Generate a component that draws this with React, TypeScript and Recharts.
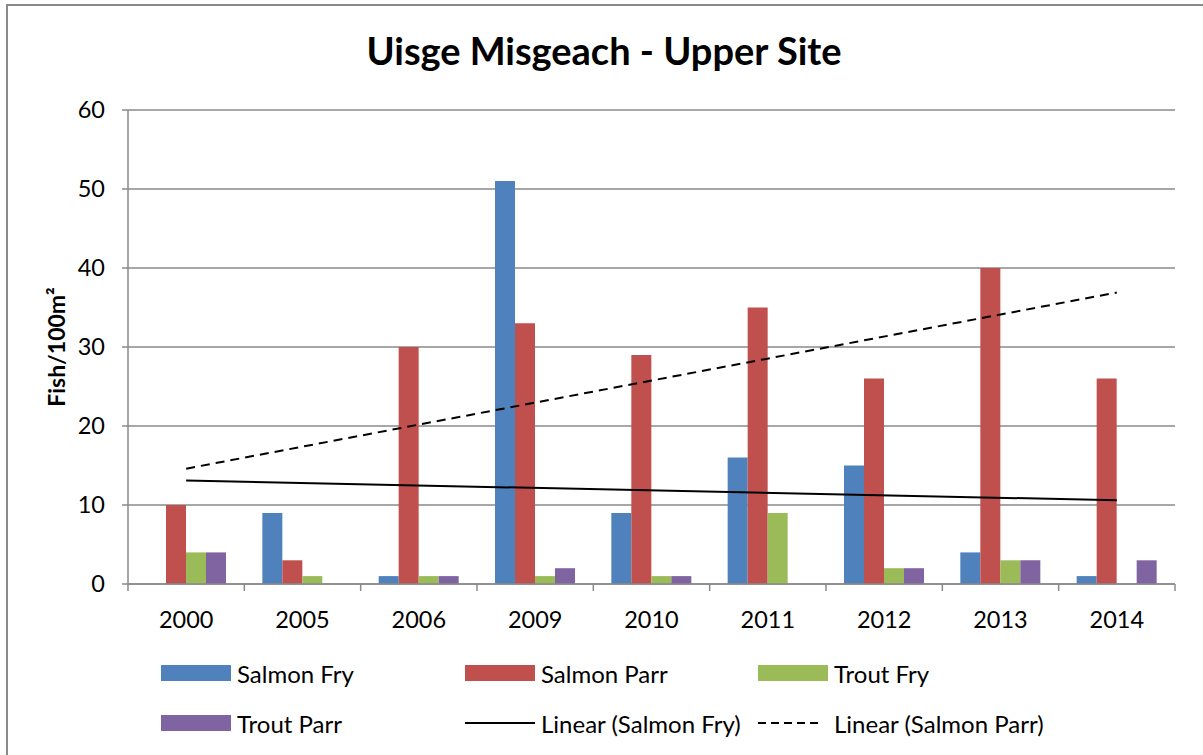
import React from 'react';
import { ComposedChart, Bar, Line, XAxis, YAxis, CartesianGrid } from 'recharts';

const years = ['2000', '2005', '2006', '2009', '2010', '2011', '2012', '2013', '2014'];
const salmonFry = [0, 9, 1, 51, 9, 16, 15, 4, 1];
const salmonParr = [10, 3, 30, 33, 29, 35, 26, 40, 26];
const troutFry = [4, 1, 1, 1, 1, 9, 2, 3, 0];
const troutParr = [4, 0, 1, 2, 1, 0, 2, 3, 3];
// trendline end points (drawn straight between first and last year)
const fryTrend = [13.1, null, null, null, null, null, null, null, 10.6];
const parrTrend = [14.6, null, null, null, null, null, null, null, 36.9];
const yTicks = [0, 10, 20, 30, 40, 50, 60];

const data = years.map((year, i) => ({
  year,
  salmonFry: salmonFry[i],
  salmonParr: salmonParr[i],
  troutFry: troutFry[i],
  troutParr: troutParr[i],
  fryTrend: fryTrend[i],
  parrTrend: parrTrend[i],
}));

const axisGray = '#8a8a8a';

const legendItems = [
  { label: 'Salmon Fry', kind: 'bar', color: '#4F81BD' },
  { label: 'Salmon Parr', kind: 'bar', color: '#C0504D' },
  { label: 'Trout Fry', kind: 'bar', color: '#9BBB59' },
  { label: 'Trout Parr', kind: 'bar', color: '#8064A2' },
  { label: 'Linear (Salmon Fry)', kind: 'line', color: '#000' },
  { label: 'Linear (Salmon Parr)', kind: 'dash', color: '#000' },
];
const legendCols = [161, 465, 758];
const legendRows = [673, 723];

const XTick = (props: any) => {
  const { x, y, payload, index } = props;
  const half = payload && payload.offset ? payload.offset : 58.2;
  return (
    <g>
      <line x1={x - half} x2={x - half} y1={y} y2={y + 7} stroke={axisGray} strokeWidth={1.5} />
      {index === years.length - 1 && (
        <line x1={x + half} x2={x + half} y1={y} y2={y + 7} stroke={axisGray} strokeWidth={1.5} />
      )}
      <text x={x} y={y + 44} textAnchor="middle" fill="#000" fontSize={23.5}>
        {payload.value}
      </text>
    </g>
  );
};

export default function App() {
  return (
    <div
      style={{
        position: 'absolute',
        left: 0,
        top: 0,
        width: 1203,
        height: 755,
        overflow: 'hidden',
        background: '#fff',
        fontFamily: 'Lato, sans-serif',
      }}
    >
      <div
        style={{
          position: 'absolute',
          left: 6,
          top: 4,
          width: 1230,
          height: 790,
          border: `2px solid ${axisGray}`,
        }}
      />
      <div
        style={{
          position: 'absolute',
          left: 0,
          top: 27,
          width: 1208,
          textAlign: 'center',
          fontSize: 38,
          fontWeight: 700,
          color: '#000',
        }}
      >
        Uisge Misgeach - Upper Site
      </div>

      <ComposedChart
        width={1203}
        height={755}
        data={data}
        margin={{ top: 110, right: 28, bottom: 131, left: 0 }}
        barCategoryGap={18}
        barGap={0}
        style={{ position: 'absolute', left: 0, top: 0 }}
      >
        <CartesianGrid vertical={false} stroke={axisGray} strokeWidth={1.5} />
        <XAxis
          dataKey="year"
          height={40}
          tickSize={0}
          tickMargin={0}
          tickLine={false}
          axisLine={{ stroke: axisGray, strokeWidth: 1.5 }}
          tick={<XTick />}
          interval={0}
        />
        <YAxis
          width={128}
          domain={[0, 60]}
          ticks={yTicks}
          tickSize={6}
          tickMargin={17}
          tickLine={{ stroke: axisGray, strokeWidth: 1.5 }}
          axisLine={{ stroke: axisGray, strokeWidth: 1.5 }}
          tick={{ fill: '#000', fontSize: 23.5 }}
          label={{
            value: 'Fish/100m²',
            angle: -90,
            position: 'insideLeft',
            offset: 57,
            style: { textAnchor: 'middle', fontSize: 23, fontWeight: 700, fill: '#000' },
          }}
        />
        <Bar dataKey="salmonFry" fill="#4F81BD" isAnimationActive={false} />
        <Bar dataKey="salmonParr" fill="#C0504D" isAnimationActive={false} />
        <Bar dataKey="troutFry" fill="#9BBB59" isAnimationActive={false} />
        <Bar dataKey="troutParr" fill="#8064A2" isAnimationActive={false} />
        <Line
          dataKey="fryTrend"
          stroke="#000"
          strokeWidth={2}
          dot={false}
          connectNulls
          isAnimationActive={false}
        />
        <Line
          dataKey="parrTrend"
          stroke="#000"
          strokeWidth={2}
          strokeDasharray="9 6"
          dot={false}
          connectNulls
          isAnimationActive={false}
        />
      </ComposedChart>

      {legendItems.map((item, i) => {
        const left = legendCols[i % 3];
        const cy = legendRows[Math.floor(i / 3)];
        return (
          <div
            key={item.label}
            style={{ position: 'absolute', left, top: cy - 16, height: 32, display: 'flex', alignItems: 'center' }}
          >
            <svg width={70} height={32} style={{ display: 'block' }}>
              {item.kind === 'bar' && <rect x={0} y={8} width={70} height={16} fill={item.color} />}
              {item.kind === 'line' && <line x1={0} x2={70} y1={16} y2={16} stroke="#000" strokeWidth={2} />}
              {item.kind === 'dash' && (
                <line x1={0} x2={62} y1={16} y2={16} stroke="#000" strokeWidth={2} strokeDasharray="8 5" />
              )}
            </svg>
            <span style={{ marginLeft: 6, fontSize: 24, color: '#000', whiteSpace: 'nowrap' }}>{item.label}</span>
          </div>
        );
      })}
    </div>
  );
}
